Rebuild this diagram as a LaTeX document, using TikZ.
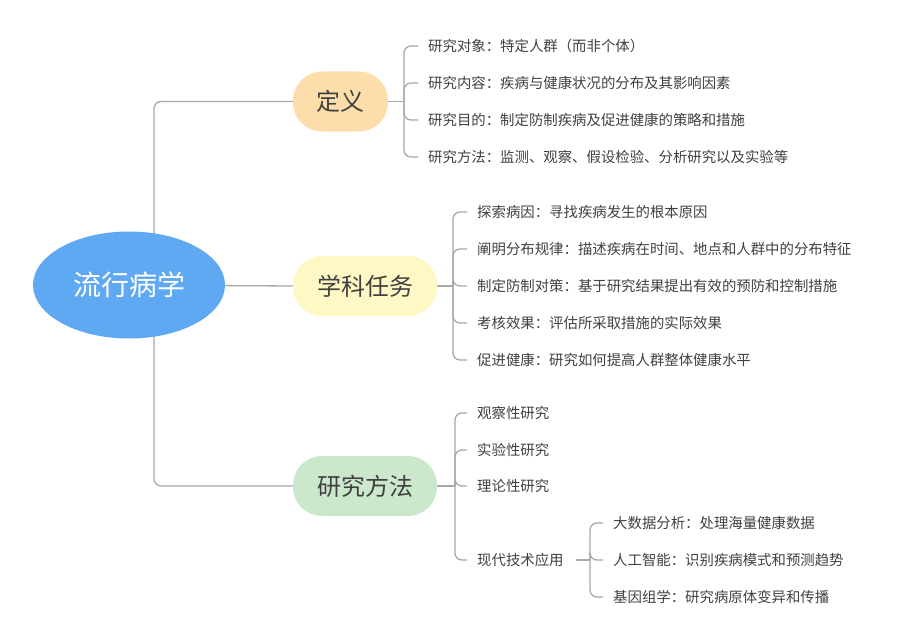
\documentclass[tikz,border=0pt]{standalone}
\usepackage{fontspec}
\setmainfont{Noto Sans CJK SC}
\usetikzlibrary{shapes.geometric,backgrounds,calc}
\definecolor{rootblue}{HTML}{5FA8F2}
\definecolor{deforange}{HTML}{FDDDAA}
\definecolor{taskyellow}{HTML}{FFF7C4}
\definecolor{methgreen}{HTML}{CBE7CC}
\definecolor{linegray}{HTML}{A8A8A8}
\definecolor{txt}{HTML}{404040}
\tikzset{
  rootnode/.style={ellipse, fill=rootblue, minimum width=192pt, minimum height=107pt, inner sep=0pt, text=white, font=\fontsize{28}{30}\selectfont},
  topic/.style={rectangle, rounded corners=29pt, minimum height=60pt, inner sep=0pt, text=txt, font=\fontsize{24}{26}\selectfont},
  leaf/.style={anchor=west, inner sep=0pt, text=txt, font=\fontsize{14.4}{16}\selectfont},
  conn/.style={draw=linegray, line width=1.3pt},
  brk/.style={draw=linegray, line width=1.3pt, rounded corners=7pt},
}
\begin{document}
\begin{tikzpicture}[x=1pt,y=-1pt]
\useasboundingbox (0,0) rectangle (900,642);
% root and topics
\node[rootnode] (root) at (129,285) {流行病学};
\node[topic, fill=deforange, minimum width=95pt] (def) at (340.5,101.5) {定义};
\node[topic, fill=taskyellow, minimum width=144pt] (task) at (365,286) {学科任务};
\node[topic, fill=methgreen, minimum width=144pt] (meth) at (365,486) {研究方法};
% definition leaves
\node[leaf] (d1) at (428,46) {研究对象：特定人群（而非个体）};
\node[leaf] (d2) at (428,83) {研究内容：疾病与健康状况的分布及其影响因素};
\node[leaf] (d3) at (428,120) {研究目的：制定防制疾病及促进健康的策略和措施};
\node[leaf] (d4) at (428,157) {研究方法：监测、观察、假设检验、分析研究以及实验等};
% task leaves
\node[leaf] (t1) at (477,212) {探索病因：寻找疾病发生的根本原因};
\node[leaf] (t2) at (477,249) {阐明分布规律：描述疾病在时间、地点和人群中的分布特征};
\node[leaf] (t3) at (477,286) {制定防制对策：基于研究结果提出有效的预防和控制措施};
\node[leaf] (t4) at (477,323) {考核效果：评估所采取措施的实际效果};
\node[leaf] (t5) at (477,360) {促进健康：研究如何提高人群整体健康水平};
% method leaves
\node[leaf] (m1) at (477,413) {观察性研究};
\node[leaf] (m2) at (477,450) {实验性研究};
\node[leaf] (m3) at (477,486) {理论性研究};
\node[leaf] (m4) at (477,560) {现代技术应用};
\node[leaf] (s1) at (613,523) {大数据分析：处理海量健康数据};
\node[leaf] (s2) at (613,560) {人工智能：识别疾病模式和预测趋势};
\node[leaf] (s3) at (613,597) {基因组学：研究病原体变异和传播};
% hubs
\coordinate (hd) at (404,101.5);
\coordinate (ht) at (453,286);
\coordinate (hm) at (455,486);
\coordinate (hs) at (590,560);
\coordinate (trunk) at (154,285);
\begin{scope}[on background layer]
\draw[brk] (trunk) |- (def.west);
\draw[brk] (trunk) |- (meth.west);
\draw[conn] (root) -- (task.west);
\draw[conn] (def.east) -- (hd);
\draw[conn] (task.east) -- (ht);
\draw[conn] (meth.east) -- (hm);
\draw[conn] ([xshift=12pt]m4.east) -- (hs);
\foreach \c in {d1,d2,d3,d4}{\draw[brk] (hd) |- ([xshift=-10pt]\c.west);}
\foreach \c in {t1,t2,t3,t4,t5}{\draw[brk] (ht) |- ([xshift=-10pt]\c.west);}
\foreach \c in {m1,m2,m3,m4}{\draw[brk] (hm) |- ([xshift=-10pt]\c.west);}
\foreach \c in {s1,s2,s3}{\draw[brk] (hs) |- ([xshift=-10pt]\c.west);}
\end{scope}
\end{tikzpicture}
\end{document}
